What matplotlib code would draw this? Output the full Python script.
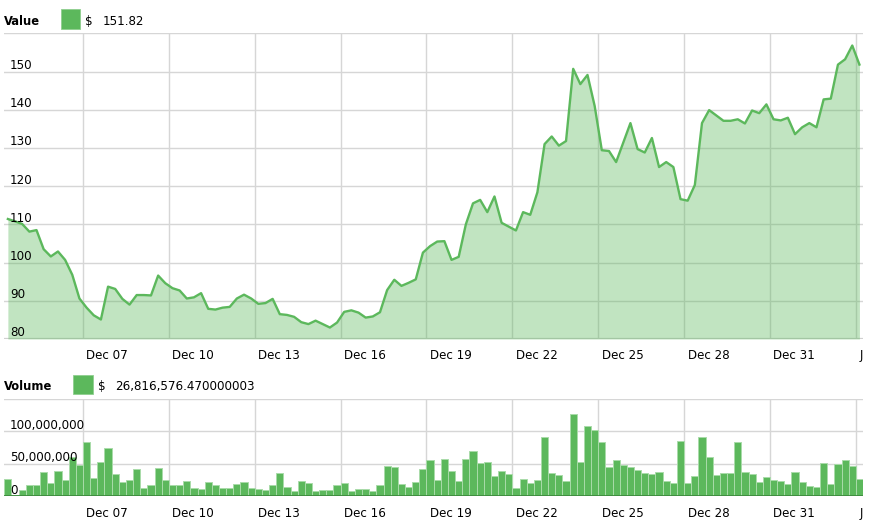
import numpy as np
import pandas as pd
import matplotlib
matplotlib.use("Agg")
import matplotlib.pyplot as plt
import matplotlib.dates as mdates
from matplotlib.transforms import ScaledTranslation, Bbox, blended_transform_factory
from matplotlib.patches import Rectangle

# ---------------- data ----------------
start_time = "2017-12-04 09:00"
step_hours = 6
price = [111.4, 110.8, 110.1, 108.1, 108.5, 103.5, 101.6, 102.9, 100.7, 96.8,
         90.6, 88.2, 86.2, 85.1, 93.7, 93.1, 90.5, 89.0, 91.5, 91.5,
         91.4, 96.6, 94.6, 93.3, 92.7, 90.6, 90.9, 92.0, 87.9, 87.7,
         88.2, 88.4, 90.6, 91.6, 90.6, 89.2, 89.4, 90.5, 86.5, 86.3,
         85.8, 84.4, 83.9, 84.8, 83.9, 83.0, 84.3, 87.1, 87.5, 86.9,
         85.6, 85.9, 87.0, 92.8, 95.5, 93.9, 94.7, 95.6, 102.6, 104.3,
         105.5, 105.6, 100.7, 101.5, 110.0, 115.5, 116.4, 113.2, 117.3, 110.4,
         109.4, 108.4, 113.2, 112.5, 118.4, 131.0, 133.0, 130.6, 131.8, 150.7,
         146.7, 149.1, 141.0, 129.4, 129.2, 126.3, 131.4, 136.5, 129.7, 128.8,
         132.6, 125.0, 126.3, 125.0, 116.6, 116.2, 120.3, 136.5, 139.9, 138.5,
         137.1, 137.1, 137.5, 136.4, 139.8, 139.1, 141.4, 137.5, 137.2, 137.9,
         133.6, 135.4, 136.5, 135.4, 142.7, 142.9, 151.8, 153.2, 156.8, 151.82]
volume_millions = [27.2, 1.5, 9.7, 16.9, 16.9, 37.4, 20.0, 39.5, 25.1, 60.0,
                   48.2, 83.1, 28.7, 52.8, 73.8, 33.8, 22.1, 25.6, 42.6, 13.3,
                   16.9, 44.1, 25.6, 16.9, 16.9, 23.6, 13.3, 11.3, 21.5, 16.9,
                   13.3, 13.3, 19.5, 21.5, 13.3, 11.3, 10.3, 16.9, 35.4, 14.9,
                   7.7, 23.6, 20.0, 7.7, 9.7, 9.7, 16.9, 20.0, 7.7, 11.3,
                   11.3, 7.7, 16.9, 46.7, 44.6, 18.5, 14.9, 22.1, 41.5, 55.4,
                   25.6, 56.9, 39.5, 23.6, 56.9, 69.2, 51.3, 53.3, 30.8, 39.5,
                   33.8, 13.3, 27.2, 20.0, 25.1, 91.3, 35.4, 32.3, 23.6, 126.7,
                   53.3, 108.7, 102.1, 83.1, 44.6, 55.4, 48.2, 44.6, 41.0, 35.4,
                   33.8, 37.4, 23.6, 20.0, 84.6, 20.0, 30.8, 91.3, 60.0, 32.3,
                   35.4, 35.4, 83.1, 37.4, 33.8, 21.5, 30.3, 25.1, 23.6, 18.5,
                   37.4, 21.5, 16.4, 14.9, 50.8, 18.5, 49.7, 55.4, 46.2, 26.816576470000003]
value_ticks = [80, 90, 100, 110, 120, 130, 140, 150]
value_range = (80, 160)
volume_ticks = [0, 50000000, 100000000]
volume_range = (0, 150000000)
date_ticks = pd.date_range("2017-12-07", "2018-01-03", freq="3D")
value_legend = "151.82"
volume_legend = "26,816,576.470000003"

# ---------------- style ----------------
GREEN = "#5cb85c"
GRID = "#d6d6d6"
FS = 8.6
W, H = 871, 523

dates = pd.date_range(start_time, periods=len(price), freq=f"{step_hours}h")
x = mdates.date2num(dates.to_pydatetime())
step = step_hours / 24.0
volume = np.array(volume_millions) * 1e6

fig = plt.figure(figsize=(W / 100, H / 100), dpi=100)


def rect(x0, y0, x1, y1):
    return [x0 / W, 1 - y1 / H, (x1 - x0) / W, (y1 - y0) / H]


def px(dx, dy):
    return ScaledTranslation(dx / 100.0, dy / 100.0, fig.dpi_scale_trans)


ax1 = fig.add_axes(rect(4.3, 33.3, 863, 339))
ax2 = fig.add_axes(rect(4.3, 399, 863, 496.3))

for ax in (ax1, ax2):
    ax.set_xlim(x[0] - step / 2, x[-1] + step / 2)
    for s in ax.spines.values():
        s.set_visible(False)
    ax.set_xticks(mdates.date2num(date_ticks.to_pydatetime()))
    ax.set_xticklabels([])
    ax.tick_params(length=0, labelleft=False, labelbottom=False)
    ax.grid(True, color=GRID, lw=1.0)
    ax.set_axisbelow(True)

# --- value chart ---
ax1.set_ylim(*value_range)
ax1.set_yticks(list(range(value_range[0], value_range[1] + 1, 10)))
ax1.fill_between(x, value_range[0], price, color=GREEN, alpha=0.38, lw=0, zorder=2)
ax1.plot(x, price, color=GREEN, lw=1.7, zorder=3, solid_joinstyle="round")
ax1.axhline(value_range[0], color="#d0d0d0", lw=1.6, zorder=1)

# --- volume chart ---
ax2.set_ylim(*volume_range)
ax2.set_yticks(volume_ticks + [volume_range[1]])
ax2.bar(x, volume, width=step, color=GREEN, edgecolor="#a9dba9", linewidth=0.7, zorder=2)
ax2.axhline(0, color="#3d8a3d", lw=1.3, zorder=3)

# y labels inside the plots
for ax, ticks, fmt in ((ax1, value_ticks, "{}"), (ax2, volume_ticks, "{:,}")):
    tr = blended_transform_factory(ax.transAxes, ax.transData) + px(5.5, 2.5)
    for v in ticks:
        ax.text(0, v, fmt.format(v), transform=tr, ha="left", va="baseline",
                fontsize=FS, color="#000000", zorder=5)

# x labels, left aligned to grid lines
clip = Bbox.from_extents(0, 0, 863, H)
for ax, dy in ((ax1, -20.0), (ax2, -20.7)):
    tr = blended_transform_factory(ax.transData, ax.transAxes) + px(3.4, dy)
    for d in date_ticks:
        label = d.strftime("%b %d")
        t = ax.text(mdates.date2num(d.to_pydatetime()), 0, label, transform=tr,
                    ha="left", va="baseline", fontsize=FS, color="#000000")
        t.set_clip_box(clip)
        t.set_clip_on(True)

# headers
def header(title, sw_x0, sw_y0, dollar_x, num_x, base_y, text):
    fig.text(4 / W, 1 - base_y / H, title, fontsize=8.3, fontweight="bold",
             ha="left", va="baseline", color="#000000")
    fig.patches.append(Rectangle((sw_x0 / W, 1 - (sw_y0 + 19.4) / H), 19.4 / W, 19.4 / H,
                                 transform=fig.transFigure, facecolor=GREEN,
                                 edgecolor="#8fcf8f", lw=0.6))
    fig.text(dollar_x / W, 1 - base_y / H, "$", fontsize=FS, ha="left", va="baseline",
             color="#000000")
    fig.text(num_x / W, 1 - base_y / H, text, fontsize=FS, ha="left", va="baseline",
             color="#000000")


header("Value", 61, 9.3, 85.5, 102.5, 25, value_legend)
header("Volume", 73.3, 375, 97.5, 115, 390, volume_legend)

fig.savefig("out.png", dpi=100)
